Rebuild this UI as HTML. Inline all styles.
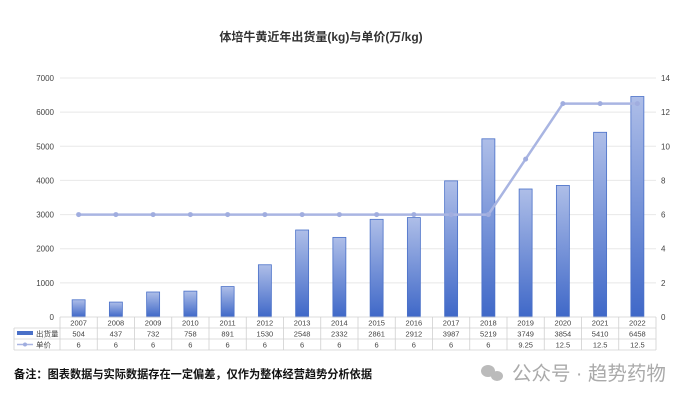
<!DOCTYPE html>
<html><head><meta charset="utf-8">
<style>
body{margin:0;background:#fff;}
svg text{font-family:"Liberation Sans","Noto Sans CJK SC",sans-serif;}
</style></head>
<body>
<svg id="c" width="692" height="402" xmlns="http://www.w3.org/2000/svg">
<defs>
<linearGradient id="bg" x1="0" y1="0" x2="0" y2="1">
<stop offset="0" stop-color="#aebee8"/><stop offset="1" stop-color="#3f68c8"/>
</linearGradient>
</defs>
<text x="321" y="41" text-anchor="middle" font-size="12" font-weight="bold" fill="#333">体培牛黄近年出货量(kg)与单价(万/kg)</text>
<g id="grid"></g><g id="bars"></g><g id="line"></g><g id="table"></g>
<text x="14" y="378" font-size="11.2" font-weight="bold" fill="#111">备注：图表数据与实际数据存在一定偏差，仅作为整体经营趋势分析依据</text>
<g>
<ellipse cx="488" cy="371" rx="7" ry="6" fill="#bbb"/><ellipse cx="497" cy="376" rx="6" ry="5" fill="#bbb"/>
<text x="512" y="380" font-size="19.5" fill="#aaa">公众号 · 趋势药物</text>
</g>
</svg>
<script>
const years=["2007","2008","2009","2010","2011","2012","2013","2014","2015","2016","2017","2018","2019","2020","2021","2022"];
const volume=[504,437,732,758,891,1530,2548,2332,2861,2912,3987,5219,3749,3854,5410,6458];
const price=[6,6,6,6,6,6,6,6,6,6,6,6,9.25,12.5,12.5,12.5];
const leftTicks=[0,1000,2000,3000,4000,5000,6000,7000];
const rightTicks=[0,2,4,6,8,10,12,14];
const NS="http://www.w3.org/2000/svg";
const X0=60,X1=656,Y0=317,Y1=78,cw=(X1-X0)/years.length;
const yL=v=>Y0-(v/7000)*(Y0-Y1), yR=v=>Y0-(v/14)*(Y0-Y1), xc=i=>X0+cw*(i+0.5);
function mk(t,a,p,txt){const e=document.createElementNS(NS,t);for(const k in a)e.setAttribute(k,a[k]);if(txt!==undefined)e.textContent=txt;p.appendChild(e);return e;}
const g=document.getElementById('grid');
leftTicks.forEach(v=>{
 if(v>0){const l=mk('line',{x1:X0,x2:X1,y1:yL(v),y2:yL(v),stroke:'#e8e8e8'},g);
 
 }
 const t=mk('text',{x:54,y:yL(v)+3,'text-anchor':'end','font-size':8,fill:'#444'},g,v);
 
 
});
rightTicks.forEach(v=>{
 const t=mk('text',{x:661,y:yR(v)+3,'font-size':8,fill:'#444'},g,v);
 
 
});
const b=document.getElementById('bars');
volume.forEach((v,i)=>{
 const r=mk('rect',{x:xc(i)-6.5,y:yL(v),width:13,height:Y0-yL(v),fill:'url(#bg)',stroke:'#4a70c8','stroke-width':0.8},b);
 
 
});
const ln=document.getElementById('line');
const pl=mk('polyline',{points:price.map((p,i)=>xc(i)+','+yR(p)).join(' '),fill:'none',stroke:'#a9b5e2','stroke-width':2.5},ln);


price.forEach((p,i)=>{
 const c=mk('circle',{cx:xc(i),cy:yR(p),r:2.5,fill:'#a0addf'},ln);
 
 
});
const tb=document.getElementById('table');
const rows=[Y0,Y0+11,Y0+22,Y0+33];
rows.forEach((y,k)=>{mk('line',{x1:k==0?X0:14,x2:X1,y1:y,y2:y,stroke:'#d0d0d0','stroke-width':0.8},tb);});
mk('line',{x1:14,x2:14,y1:Y0+11,y2:Y0+33,stroke:'#d0d0d0','stroke-width':0.8},tb);
for(let i=0;i<=years.length;i++)mk('line',{x1:X0+cw*i,x2:X0+cw*i,y1:Y0,y2:Y0+33,stroke:'#d0d0d0','stroke-width':0.8},tb);
mk('rect',{x:17,y:Y0+14,width:16,height:4,fill:'#4a70c8'},tb);
mk('text',{x:36,y:Y0+19.5,'font-size':7.5,fill:'#444'},tb,'出货量');
mk('line',{x1:17,x2:33,y1:Y0+27.5,y2:Y0+27.5,stroke:'#a9b5e2','stroke-width':1.5},tb);
mk('circle',{cx:25,cy:Y0+27.5,r:2,fill:'#a0addf'},tb);
mk('text',{x:36,y:Y0+30.5,'font-size':7.5,fill:'#444'},tb,'单价');
years.forEach((y,i)=>{
 const t1=mk('text',{x:xc(i),y:Y0+8.5,'text-anchor':'middle','font-size':7.5,fill:'#444'},tb,y);
 
 
 mk('text',{x:xc(i),y:Y0+19.5,'text-anchor':'middle','font-size':7.5,fill:'#444'},tb,volume[i]);
 mk('text',{x:xc(i),y:Y0+30.5,'text-anchor':'middle','font-size':7.5,fill:'#444'},tb,price[i]);
});
</script>
</body></html>
